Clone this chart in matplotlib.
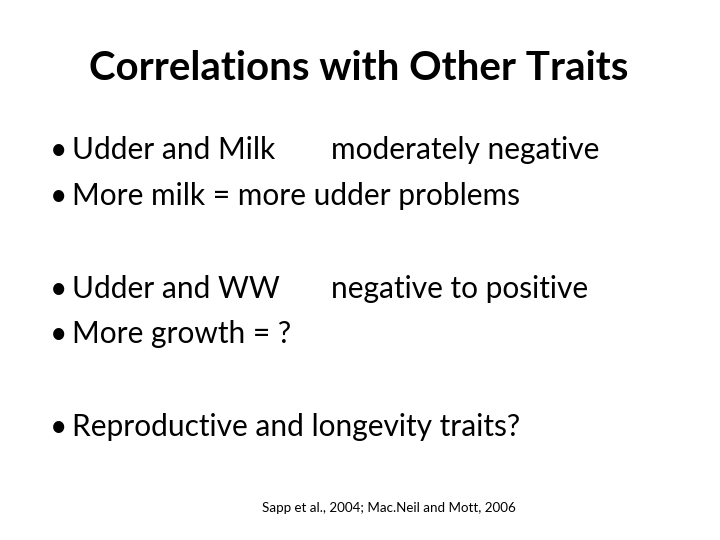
import matplotlib
matplotlib.use("Agg")
import matplotlib.pyplot as plt

title = "Correlations with Other Traits"
bullets = ["Udder and Milk", "More milk = more udder problems", "Udder and WW", "More growth = ?",
           "Reproductive and longevity traits?"]
bullet_y = [159, 205, 298, 343, 436]
side = {0: "moderately negative", 2: "negative to positive"}
citation = "Sapp et al., 2004; Mac.Neil and Mott, 2006"

fig = plt.figure(figsize=(7.2, 5.4), dpi=100)
ax = fig.add_axes([0, 0, 1, 1])
ax.set_xlim(0, 720); ax.set_ylim(540, 0); ax.axis("off")
fam = ["Lato", "DejaVu Sans"]
ax.text(359, 80, title, ha="center", va="baseline", fontsize=29, fontweight="bold", family=fam)
for i, (t, y) in enumerate(zip(bullets, bullet_y)):
    ax.text(50, y, "•", ha="left", va="baseline", fontsize=21.5, family=fam)
    ax.text(72, y, t, ha="left", va="baseline", fontsize=21.5, family=fam)
    if i in side:
        ax.text(331, y, side[i], ha="left", va="baseline", fontsize=21.5, family=fam)
ax.text(389, 512, citation, ha="center", va="baseline", fontsize=9.6, family=fam)
fig.savefig("out.png", dpi=100)
